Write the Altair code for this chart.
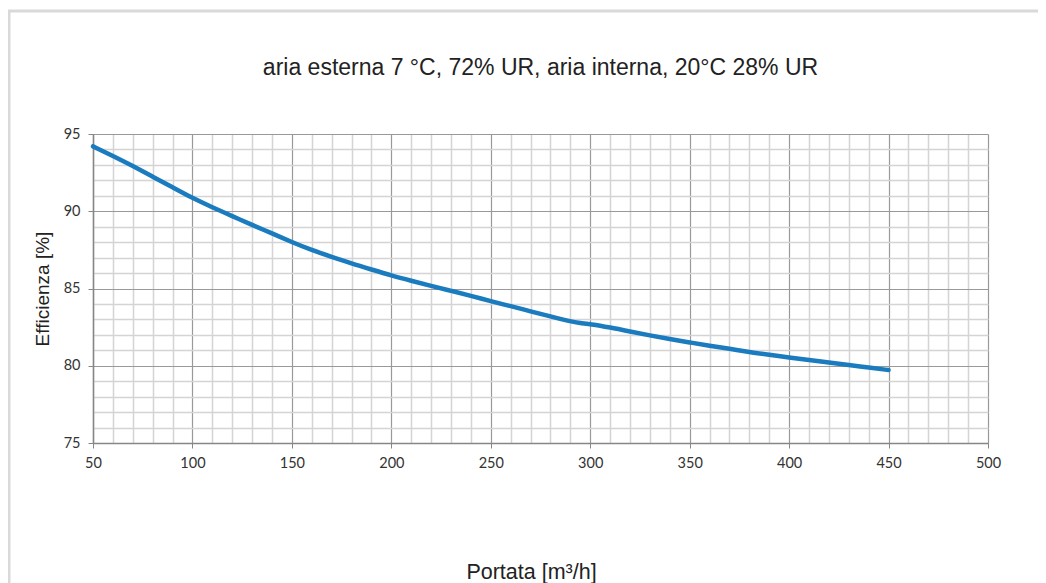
import altair as alt
import pandas as pd

# Data
portata = [50, 60, 70, 80, 90, 100, 110, 120, 130, 140, 150, 160, 170, 180, 190,
           200, 210, 220, 230, 240, 250, 260, 270, 280, 290, 295, 300, 310, 320,
           330, 340, 350, 360, 370, 380, 390, 400, 410, 420, 430, 440, 450]
efficienza = [94.20, 93.58, 92.93, 92.24, 91.55, 90.85, 90.25, 89.69, 89.11, 88.57,
              88.00, 87.48, 87.05, 86.62, 86.23, 85.84, 85.50, 85.17, 84.85, 84.53,
              84.18, 83.86, 83.52, 83.19, 82.87, 82.76, 82.70, 82.48, 82.22, 81.96,
              81.73, 81.51, 81.29, 81.10, 80.88, 80.71, 80.54, 80.37, 80.22, 80.04,
              79.89, 79.72]

x_ticks = list(range(50, 501, 10))
y_ticks = list(range(75, 96, 1))

title_text = "aria esterna 7 °C, 72% UR, aria interna, 20°C 28% UR"
x_title = "Portata [m³/h]"
y_title = "Efficienza [%]"

W, H = 895, 309

df = pd.DataFrame({"portata": portata, "efficienza": efficienza})

MAJOR = "#999999"
MINOR = "#d4d4d4"

x_axis = alt.Axis(
    values=x_ticks,
    title=x_title,
    labelExpr="datum.value % 50 === 0 ? datum.label : ''",
    labelOverlap=False,
    labelFlush=False,
    gridColor={"condition": {"test": "datum.value % 50 === 0", "value": MAJOR}, "value": MINOR},
    gridWidth={"condition": {"test": "datum.value % 50 === 0", "value": 1.2}, "value": 1.5},
    tickColor={"condition": {"test": "datum.value % 50 === 0", "value": "#868686"}, "value": "transparent"},
    tickSize=5,
    labelPadding=8,
    titlePadding=92,
    titleX=438,
    titleFontSize=21.5,
)

y_axis = alt.Axis(
    values=y_ticks,
    title=y_title,
    labelExpr="datum.value % 5 === 0 ? datum.label : ''",
    labelOverlap=False,
    labelFlush=False,
    gridColor={"condition": {"test": "datum.value % 5 === 0", "value": MAJOR}, "value": MINOR},
    gridWidth={"condition": {"test": "datum.value % 5 === 0", "value": 1.2}, "value": 1.5},
    tickColor={"condition": {"test": "datum.value % 5 === 0", "value": "#868686"}, "value": "transparent"},
    tickSize=5,
    labelPadding=8,
    titlePadding=11,
    titleFontSize=19,
)

border = alt.Chart(pd.DataFrame({"a": [0]})).mark_rect(
    fill="transparent", stroke="#d9d9d9", strokeWidth=3
).encode(
    x=alt.value(-84), x2=alt.value(W + 200),
    y=alt.value(-123), y2=alt.value(H + 300),
)

title = alt.Chart(pd.DataFrame({"t": [title_text]})).mark_text(
    font="Liberation Sans", fontSize=23, color="#222222", align="center", baseline="middle"
).encode(
    text="t:N",
    x=alt.value(W / 2),
    y=alt.value(-66),
)

line = alt.Chart(df).mark_line(
    color="#1b7bbf", strokeWidth=4.5, strokeCap="round", interpolate="basis"
).encode(
    x=alt.X("portata:Q", scale=alt.Scale(domain=[50, 500], nice=False, zero=False), axis=x_axis),
    y=alt.Y("efficienza:Q", scale=alt.Scale(domain=[75, 95], nice=False, zero=False), axis=y_axis),
)

chart = alt.layer(border, title, line).properties(
    width=W,
    height=H,
    autosize=alt.AutoSizeParams(type="none"),
    padding={"left": 85, "top": 126, "right": 50, "bottom": 140},
).configure_view(stroke=None).configure_axis(
    domainColor="#868686",
    domainWidth=1.5,
    labelFont="Lato",
    labelFontSize=14.5,
    labelColor="#333333",
    titleFont="Liberation Sans",
    titleFontSize=18,
    titleFontWeight="normal",
    titleColor="#222222",
)

chart.save("out.html", embed_options={"renderer": "svg", "actions": False})
